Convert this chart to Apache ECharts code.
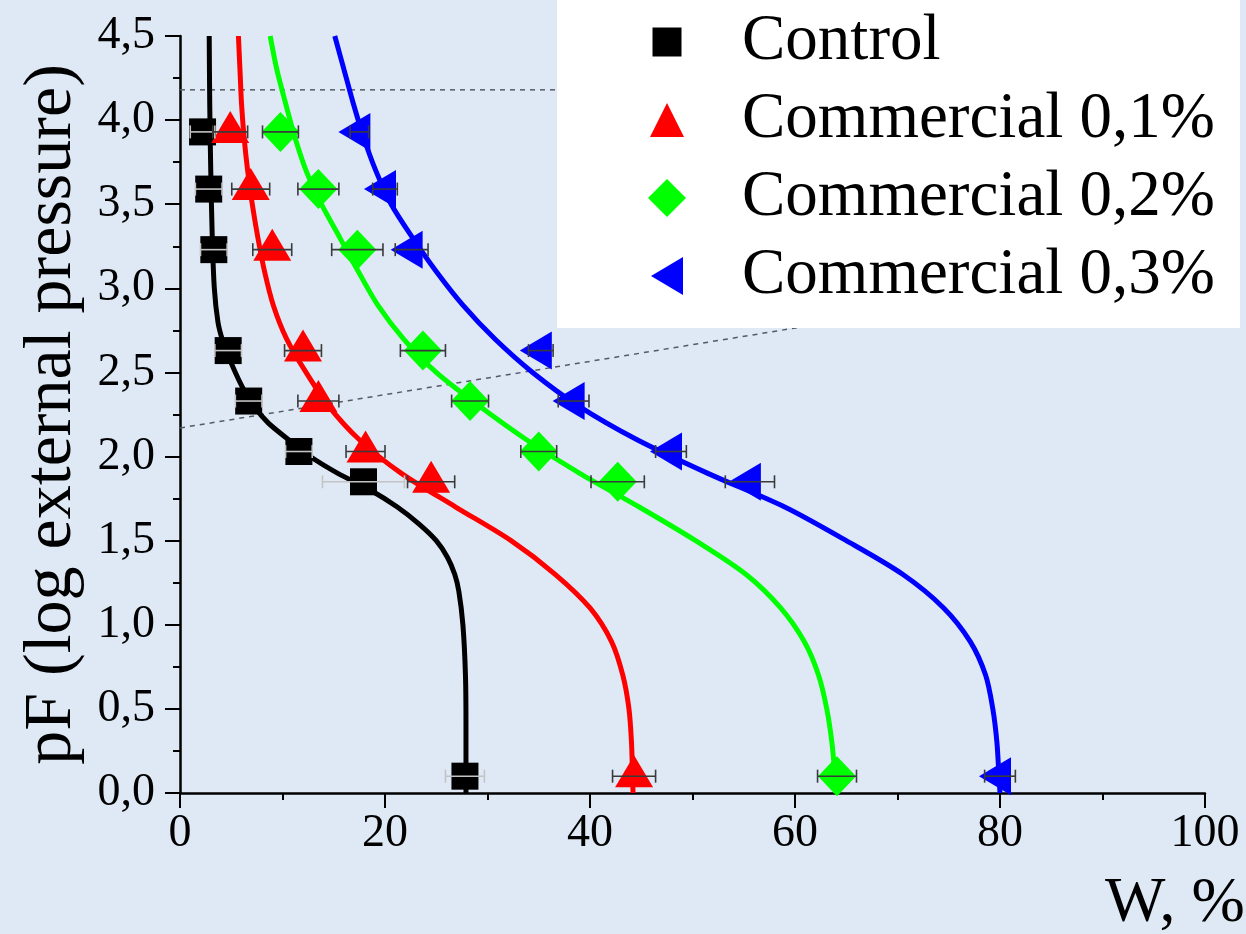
<!DOCTYPE html>
<html>
<head>
<meta charset="utf-8">
<script src="https://cdn.jsdelivr.net/npm/echarts@6/dist/echarts.min.js"></script>
<style>
  html, body { margin: 0; padding: 0; background: #dee9f5; }
  #chart { width: 1246px; height: 934px; }
</style>
</head>
<body>
<div id="chart"></div>
<script>
// Measured points: pF levels shared by all samples
const pfLevels = [3.93, 3.59, 3.23, 2.63, 2.33, 2.03, 1.85, 0.1];

// Water content W (%) and its spread at each pF level
const controlW   = [2.2, 2.8, 3.3, 4.7, 6.7, 11.6, 17.9, 27.8];
const controlErr = [1.2, 1.3, 1.3, 1.3, 1.3, 1.3, 4.0, 1.9];
const c01W   = [4.9, 6.9, 9.0, 12.0, 13.5, 18.1, 24.5, 44.3];
const c01Err = [1.7, 1.85, 1.9, 1.8, 2.0, 1.9, 2.3, 2.1];
const c02W   = [9.8, 13.5, 17.3, 23.7, 28.3, 35.0, 42.7, 64.1];
const c02Err = [1.75, 2.0, 2.5, 2.2, 1.8, 1.75, 2.6, 1.9];
const c03W   = [17.5, 20.0, 22.6, 35.2, 38.4, 47.9, 55.6, 80.0];
const c03Err = [0.9, 1.2, 1.6, 1.2, 1.5, 1.5, 2.4, 1.5];

// Fitted retention curves (pF, W)
const controlFitPF = [4.5, 4.1, 3.7, 3.3, 3.0, 2.8, 2.7, 2.6, 2.5, 2.4, 2.3, 2.2, 2.1, 2.0, 1.9, 1.8, 1.7, 1.6, 1.5, 1.4, 1.3, 1.2, 1.0, 0.7, 0.4, 0];
const controlFitW  = [2.85, 2.9, 3.0, 3.15, 3.35, 3.7, 4.1, 4.7, 5.4, 6.2, 7.2, 8.6, 10.6, 12.7, 15.4, 18.6, 21.2, 23.3, 25.0, 26.1, 26.8, 27.2, 27.6, 27.85, 27.9, 27.9];
const c01FitPF = [4.5, 4.3, 4.1, 3.9, 3.7, 3.5, 3.3, 3.1, 2.9, 2.7, 2.5, 2.3, 2.1, 1.9, 1.7, 1.5, 1.3, 1.1, 0.9, 0.7, 0.5, 0.3, 0.1, 0];
const c01FitW  = [5.7, 5.85, 6.0, 6.25, 6.6, 7.05, 7.6, 8.25, 9.1, 10.4, 12.3, 14.5, 17.5, 21.6, 26.9, 32.3, 36.6, 40.0, 42.1, 43.2, 43.8, 44.05, 44.15, 44.2];
const c02FitPF = [4.5, 4.3, 4.1, 3.9, 3.7, 3.5, 3.3, 3.1, 2.9, 2.7, 2.5, 2.3, 2.1, 1.9, 1.7, 1.5, 1.3, 1.1, 0.9, 0.7, 0.5, 0.3, 0.1, 0];
const c02FitW  = [8.8, 9.45, 10.3, 11.2, 12.3, 13.8, 15.6, 17.4, 19.3, 21.8, 25.0, 29.2, 33.8, 39.0, 44.8, 50.3, 55.2, 58.6, 60.9, 62.3, 63.1, 63.6, 63.9, 64.0];
const c03FitPF = [4.5, 4.3, 4.1, 3.9, 3.7, 3.5, 3.3, 3.1, 2.9, 2.7, 2.5, 2.3, 2.1, 1.9, 1.7, 1.5, 1.3, 1.1, 0.9, 0.7, 0.5, 0.3, 0.1, 0];
const c03FitW  = [15.1, 16.0, 16.9, 17.9, 19.1, 20.6, 22.7, 25.0, 27.6, 30.7, 34.4, 38.9, 44.6, 51.5, 59.0, 65.0, 70.5, 74.5, 77.1, 78.6, 79.3, 79.7, 79.9, 80.0];

// Dashed guide lines (W, pF)
const guideFlatW = [0, 100];
const guideFlatPF = [4.18, 4.18];
const guideSlopeW = [0, 100];
const guideSlopePF = [2.17, 3.16];

// Axis tick labels
const xTicks = [0, 20, 40, 60, 80, 100];
const yTicks = ['0,0', '0,5', '1,0', '1,5', '2,0', '2,5', '3,0', '3,5', '4,0', '4,5'];

const names = ['Control', 'Commercial 0,1%', 'Commercial 0,2%', 'Commercial 0,3%'];
const colors = ['#000000', '#ff0000', '#00ff00', '#0000ff'];

const FONT = 'Liberation Serif';

const pairs = (xs, ys) => xs.map((x, i) => [x, ys[i]]);

// Horizontal error bars with end caps
function errorBars(ws, errs, color) {
  return {
    type: 'custom',
    silent: true,
    z: 6,
    data: ws.map((w, i) => [w, pfLevels[i], errs[i]]),
    encode: { x: 0, y: 1 },
    renderItem: function (params, api) {
      const w = api.value(0), pf = api.value(1), e = api.value(2);
      const a = api.coord([w - e, pf]);
      const b = api.coord([w + e, pf]);
      const h = 6.5;
      const st = { stroke: color, lineWidth: 1.6 };
      return {
        type: 'group',
        children: [
          { type: 'line', shape: { x1: a[0], y1: a[1], x2: b[0], y2: b[1] }, style: st },
          { type: 'line', shape: { x1: a[0], y1: a[1] - h, x2: a[0], y2: a[1] + h }, style: st },
          { type: 'line', shape: { x1: b[0], y1: b[1] - h, x2: b[0], y2: b[1] + h }, style: st }
        ]
      };
    }
  };
}

function fitLine(name, ws, pfs, color) {
  return {
    name: name, type: 'line', data: pairs(ws, pfs),
    showSymbol: false, smooth: 0.3, z: 3, silent: true,
    lineStyle: { color: color, width: 5 }
  };
}

const leftTri = 'path://M0,5L8.66,0L8.66,10Z';

const series = [
  fitLine('Control fit', controlFitW, controlFitPF, colors[0]),
  fitLine('Commercial 0,1% fit', c01FitW, c01FitPF, colors[1]),
  fitLine('Commercial 0,2% fit', c02FitW, c02FitPF, colors[2]),
  fitLine('Commercial 0,3% fit', c03FitW, c03FitPF, colors[3]),
  {
    name: 'guide1', type: 'line', data: pairs(guideFlatW, guideFlatPF), showSymbol: false, silent: true, z: 2,
    lineStyle: { color: '#555b66', width: 1.5, type: [5, 5] }
  },
  {
    name: 'guide2', type: 'line', data: pairs(guideSlopeW, guideSlopePF), showSymbol: false, silent: true, z: 2,
    lineStyle: { color: '#555b66', width: 1.5, type: [5, 5] }
  },
  {
    name: names[0], type: 'scatter', data: pairs(controlW, pfLevels), z: 4,
    symbol: 'rect', symbolSize: 27, itemStyle: { color: colors[0], opacity: 1 }
  },
  {
    name: names[1], type: 'scatter', data: pairs(c01W, pfLevels), z: 4,
    symbol: 'triangle', symbolSize: [38, 32], symbolOffset: [0, -5], itemStyle: { color: colors[1], opacity: 1 }
  },
  {
    name: names[2], type: 'scatter', data: pairs(c02W, pfLevels), z: 4,
    symbol: 'diamond', symbolSize: [38, 40], itemStyle: { color: colors[2], opacity: 1 }
  },
  {
    name: names[3], type: 'scatter', data: pairs(c03W, pfLevels), z: 4,
    symbol: leftTri, symbolKeepAspect: false, symbolSize: [32, 38], symbolOffset: [-5, 0], itemStyle: { color: colors[3], opacity: 1 }
  },
  errorBars(controlW, controlErr, '#c4c4c4'),
  errorBars(c01W, c01Err, '#3a3a3a'),
  errorBars(c02W, c02Err, '#3a3a3a'),
  errorBars(c03W, c03Err, '#3a3a3a')
];

const chart = echarts.init(document.getElementById('chart'), null, { renderer: 'canvas' });
chart.setOption({
  backgroundColor: '#dee9f5',
  animation: false,
  grid: { left: 180, right: 41, top: 36, bottom: 141, containLabel: false },
  xAxis: {
    type: 'value', min: 0, max: 100, interval: 20,
    axisLine: { show: true, lineStyle: { color: '#000', width: 2.5 } },
    axisTick: { show: true, inside: false, length: 15, lineStyle: { color: '#000', width: 2 } },
    minorTick: { show: true, splitNumber: 2, length: 7, lineStyle: { color: '#000', width: 2 } },
    splitLine: { show: false },
    axisLabel: {
      margin: 18, color: '#000', fontFamily: FONT, fontSize: 46,
      formatter: function (v) { return xTicks.indexOf(v) >= 0 ? String(v) : ''; }
    }
  },
  yAxis: {
    type: 'value', min: 0, max: 4.5, interval: 0.5,
    name: 'pF (log external pressure)', nameLocation: 'middle', nameGap: 94,
    nameTextStyle: { color: '#000', fontFamily: FONT, fontSize: 68 },
    axisLine: { show: true, lineStyle: { color: '#000', width: 2.5 } },
    axisTick: { show: true, inside: false, length: 15, lineStyle: { color: '#000', width: 2 } },
    minorTick: { show: true, splitNumber: 2, length: 7, lineStyle: { color: '#000', width: 2 } },
    splitLine: { show: false },
    axisLabel: {
      margin: 25, color: '#000', fontFamily: FONT, fontSize: 46,
      formatter: function (v) { return yTicks[Math.round(v / 0.5)]; }
    }
  },
  legend: {
    orient: 'vertical', left: 557, top: 0,
    padding: [9, 25, 19, 91],
    backgroundColor: '#ffffff',
    itemWidth: 38, itemHeight: 38, itemGap: 12,
    selectedMode: false,
    textStyle: { color: '#000', fontFamily: FONT, fontSize: 65, lineHeight: 66, padding: [0, 0, 0, 51] },
    data: [
      { name: names[0], icon: 'path://M0,0M38,38M4.5,4.5h29v29h-29z' },
      { name: names[1], icon: 'path://M0,0M38,38M2,36L19,2L36,36Z' },
      { name: names[2], icon: 'path://M19,0L38,19L19,38L0,19Z' },
      { name: names[3], icon: 'path://M0,0M38,38M3,19L35,0L35,38Z' }
    ]
  },
  graphic: [
    {
      type: 'text', left: 1105, top: 872, z: 10,
      style: { text: 'W, %', fill: '#000', font: '64px ' + FONT }
    }
  ],
  series: series
});
</script>
</body>
</html>
